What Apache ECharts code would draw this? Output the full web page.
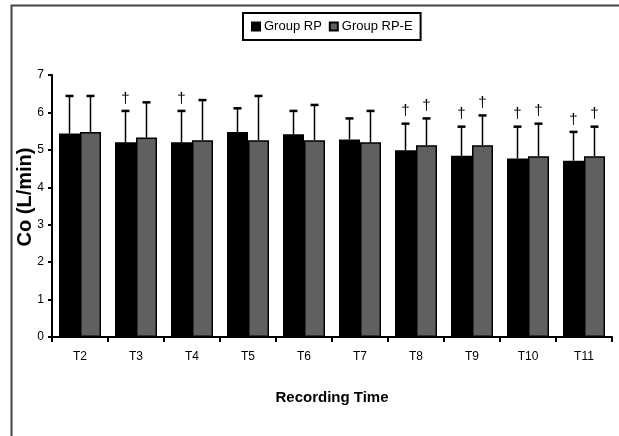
<!DOCTYPE html>
<html>
<head>
<meta charset="utf-8">
<script src="https://cdn.jsdelivr.net/npm/echarts@6/dist/echarts.min.js"></script>
<style>html,body{margin:0;padding:0;background:#fff}#c{width:619px;height:436px}</style>
</head>
<body>
<div id="c"></div>
<script>
var categories = ['T2','T3','T4','T5','T6','T7','T8','T9','T10','T11'];
var rpMean  = [5.44, 5.20, 5.20, 5.48, 5.42, 5.28, 4.99, 4.84, 4.77, 4.71];
var rpSD    = [1.00, 0.84, 0.84, 0.63, 0.62, 0.56, 0.71, 0.78, 0.85, 0.77];
var rpeMean = [5.48, 5.33, 5.26, 5.26, 5.26, 5.20, 5.12, 5.12, 4.83, 4.83];
var rpeSD   = [0.96, 0.94, 1.07, 1.18, 0.94, 0.84, 0.72, 0.80, 0.87, 0.79];
var rpSig   = [0, 1, 1, 0, 0, 0, 1, 1, 1, 1];
var rpeSig  = [0, 0, 0, 0, 0, 0, 1, 1, 1, 1];
var yTicks  = [0, 1, 2, 3, 4, 5, 6, 7];

var FONT = "'Liberation Sans Narrow', 'Liberation Sans', Arial, sans-serif";
var chart = echarts.init(document.getElementById('c'));

function errData(mean, sd, sig) {
  return mean.map(function (m, i) { return [i, m, m + sd[i], sig[i]]; });
}
function errRender(side) {
  return function (params, api) {
    var idx = api.value(0);
    var base = api.coord([idx, api.value(1)]);
    var top = api.coord([idx, api.value(2)]);
    var band = api.size([1, 0])[0];
    var bw = band * 0.75 / 2;
    var x = base[0] + side * bw / 2;
    var children = [
      { type: 'line', shape: { x1: x, y1: base[1], x2: x, y2: top[1] }, style: { stroke: '#000', lineWidth: 1.5 } },
      { type: 'line', shape: { x1: x - 4, y1: top[1], x2: x + 4, y2: top[1] }, style: { stroke: '#000', lineWidth: 2.5 } }
    ];
    if (api.value(3)) {
      children.push({ type: 'text', style: { text: '\u2020', x: x, y: top[1] - 5, textAlign: 'center', textVerticalAlign: 'bottom', fontSize: 15, fontFamily: FONT, fill: '#000' } });
    }
    return { type: 'group', children: children };
  };
}

chart.setOption({
  animation: false,
  backgroundColor: '#fff',
  graphic: [
    { type: 'polyline', shape: { points: [[11.5, 436], [11.5, 5.5], [619, 5.5]] }, style: { stroke: '#444', lineWidth: 2, fill: null } }
  ],
  legend: {
    data: ['Group RP', 'Group RP-E'],
    left: 243, top: 13,
    itemWidth: 8, itemHeight: 8, itemGap: 7,
    padding: [7, 8, 7, 8],
    borderColor: '#000', borderWidth: 2,
    icon: 'rect',
    textStyle: { fontFamily: FONT, fontSize: 13, color: '#000', padding: [0, 0, 0, -1] }
  },
  grid: { left: 52, right: 7, top: 75, bottom: 99 },
  xAxis: {
    type: 'category', data: categories,
    name: 'Recording Time', nameLocation: 'middle', nameGap: 53, nameMoveOverlap: false,
    nameTextStyle: { fontFamily: FONT, fontSize: 15, fontWeight: 'bold', color: '#000' },
    axisLine: { lineStyle: { color: '#000', width: 2 } },
    axisTick: { show: true, length: 5, lineStyle: { color: '#000', width: 2 } },
    axisLabel: { fontFamily: FONT, fontSize: 12, color: '#000', margin: 14 }
  },
  yAxis: {
    type: 'value', min: yTicks[0], max: yTicks[yTicks.length - 1], interval: 1,
    name: 'Co (L/min)', nameLocation: 'middle', nameGap: 17, nameRotate: 90, nameMoveOverlap: false,
    nameTextStyle: { fontFamily: FONT, fontSize: 20, fontWeight: 'bold', color: '#000', padding: [0, 0, 0, 18] },
    axisLine: { show: true, lineStyle: { color: '#000', width: 2 } },
    axisTick: { show: true, length: 4, lineStyle: { color: '#000', width: 2 } },
    axisLabel: { fontFamily: FONT, fontSize: 12, color: '#000', margin: 8 },
    splitLine: { show: false }
  },
  series: [
    { name: 'Group RP', type: 'bar', data: rpMean, barGap: '0%', barCategoryGap: '25%',
      itemStyle: { color: '#000', borderColor: '#000', borderWidth: 1.5 } },
    { name: 'Group RP-E', type: 'bar', data: rpeMean,
      itemStyle: { color: '#606060', borderColor: '#000', borderWidth: 1.5 } },
    { type: 'custom', data: errData(rpMean, rpSD, rpSig), renderItem: errRender(-1), z: 5,
      encode: { x: 0, y: [1, 2] } },
    { type: 'custom', data: errData(rpeMean, rpeSD, rpeSig), renderItem: errRender(1), z: 5,
      encode: { x: 0, y: [1, 2] } }
  ]
});
</script>
</body>
</html>
